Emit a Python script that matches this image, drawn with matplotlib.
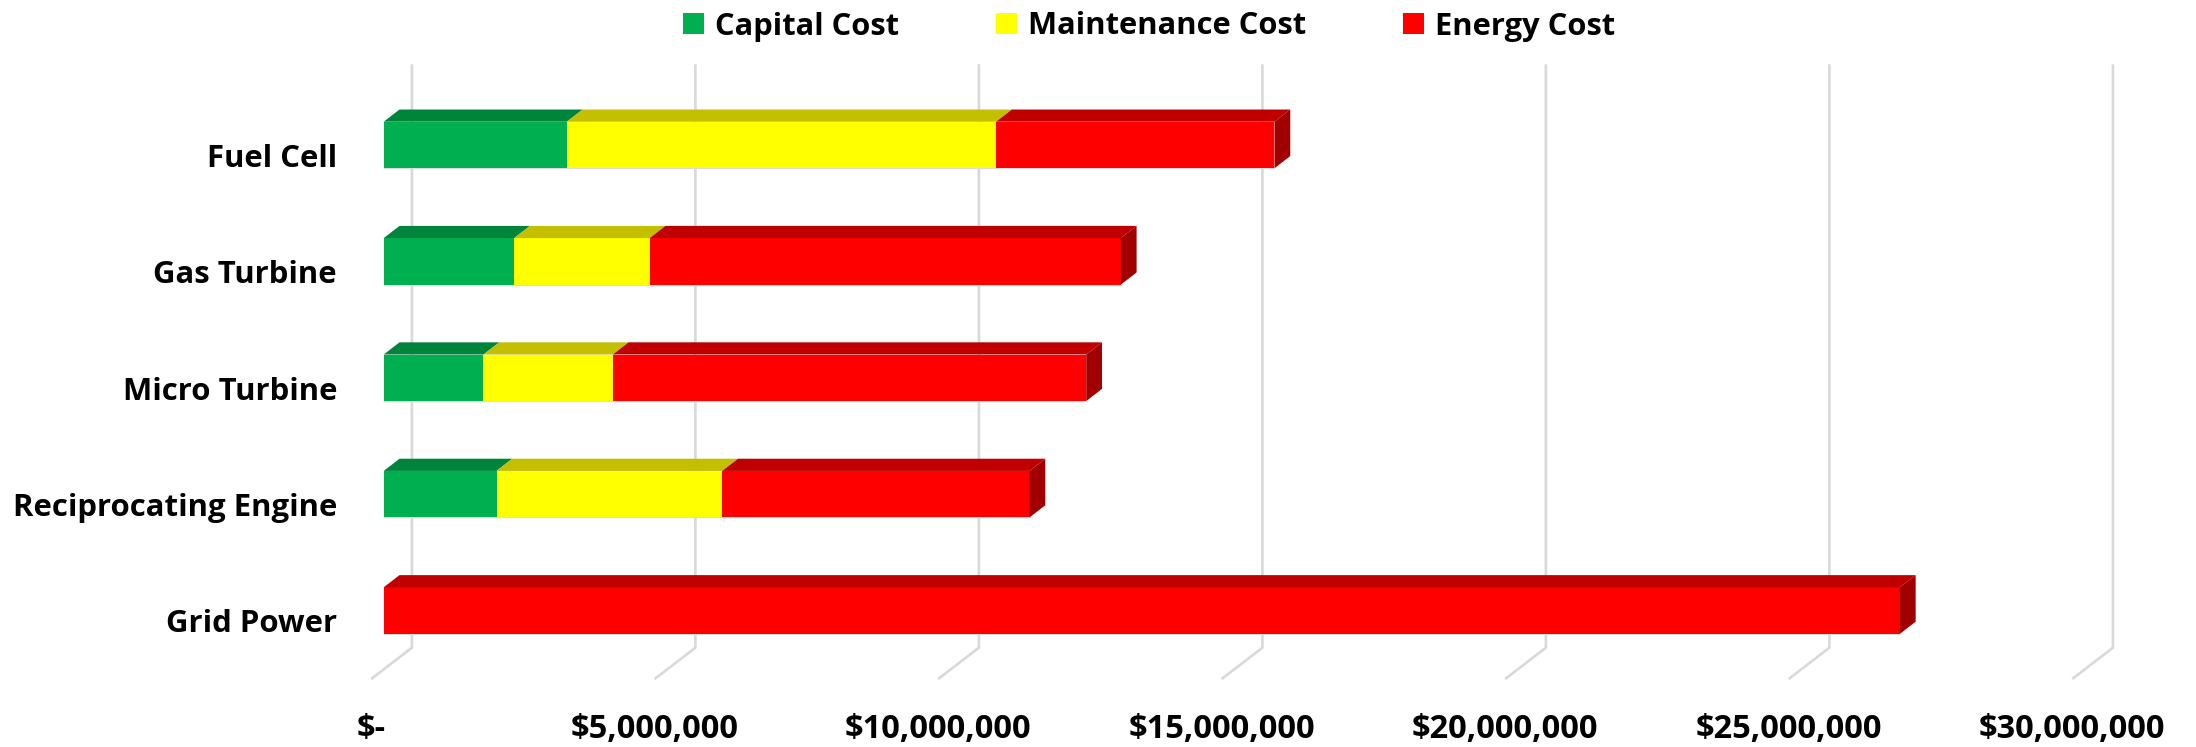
import matplotlib
matplotlib.use('Agg')
import matplotlib.pyplot as plt
from matplotlib.patches import Polygon, Patch
import numpy as np

# ---------------- data ----------------
categories = ['Fuel Cell', 'Gas Turbine', 'Micro Turbine', 'Reciprocating Engine', 'Grid Power']
capital_cost = [3.23e6, 2.30e6, 1.76e6, 1.99e6, 0.0]
maintenance_cost = [7.57e6, 2.39e6, 2.28e6, 3.98e6, 0.0]
energy_cost = [4.91e6, 8.31e6, 8.35e6, 5.42e6, 26.74e6]
series_names = ['Capital Cost', 'Maintenance Cost', 'Energy Cost']
tick_values = [0, 5e6, 10e6, 15e6, 20e6, 25e6, 30e6]
tick_labels = ['$-', '$5,000,000', '$10,000,000', '$15,000,000', '$20,000,000', '$25,000,000', '$30,000,000']

# ---------------- style ----------------
front_colors = ['#00B050', '#FFFF00', '#FF0000']
top_colors = ['#00843C', '#C4BF00', '#C00000']
side_colors = ['#00702F', '#A6A200', '#A00000']
grid_color = '#D9D9D9'

plt.rcParams['font.family'] = ['Open Sans', 'DejaVu Sans']
plt.rcParams['font.weight'] = 'bold'

W, H = 2196, 747
fig = plt.figure(figsize=(W / 100, H / 100), dpi=100)
ax = fig.add_axes([0, 0, 1, 1])

# scale: pixels -> data
PX = 5e6 / 283.5          # dollars per pixel
x0px = 383.7               # pixel position of zero on bar front faces
row_px = 116.4             # pixels between category rows
y0px = 145.0               # pixel centre of first row
ax.set_xlim(-x0px * PX, (W - x0px) * PX)
ax.set_ylim((H - y0px) / row_px, -y0px / row_px)
ax.axis('off')

ROW = 1.0 / row_px         # data units per pixel (vertical)
bar_h = 0.4
bdx, bdy = 15.8 * PX, -12.2 * ROW          # bar depth offset
wall_dx = 28.2 * PX                        # back wall offset from bar front
floor_dx, floor_dy = 40.7 * PX, 31.3 * ROW  # floor depth
wall_top = (64.3 - y0px) * ROW
wall_bottom = (647.7 - y0px) * ROW

# gridlines on back wall + floor
for v in tick_values:
    xb = v + wall_dx
    ax.plot([xb, xb, xb - floor_dx], [wall_top, wall_bottom, wall_bottom + floor_dy],
            color=grid_color, lw=1.9, zorder=1, solid_capstyle='butt')

# bars
y = np.arange(len(categories))
series = [capital_cost, maintenance_cost, energy_cost]
left = np.zeros(len(categories))
for k, vals in enumerate(series):
    vals = np.array(vals)
    ax.barh(y, vals, left=left, height=bar_h, color=front_colors[k], zorder=3,
            linewidth=0)
    for i in range(len(categories)):
        if vals[i] <= 0:
            continue
        l, r = left[i], left[i] + vals[i]
        t = y[i] - bar_h / 2
        top = Polygon([(l, t), (r, t), (r + bdx, t + bdy), (l + bdx, t + bdy)],
                      closed=True, facecolor=top_colors[k], edgecolor='none', zorder=3)
        ax.add_patch(top)
    left = left + vals

# faint outline under each bar's front face
for i in range(len(categories)):
    ax.plot([0, left[i]], [y[i] + bar_h / 2, y[i] + bar_h / 2], color='#DCDCDC',
            lw=0.8, zorder=2.9)

# side face at end of each bar
for i in range(len(categories)):
    r = left[i]
    t = y[i] - bar_h / 2
    b = y[i] + bar_h / 2
    last = max(k for k in range(3) if series[k][i] > 0)
    side = Polygon([(r, t), (r, b), (r + bdx, b + bdy), (r + bdx, t + bdy)],
                   closed=True, facecolor=side_colors[last], edgecolor='none', zorder=3)
    ax.add_patch(side)

# category labels
label_x = (337 - x0px) * PX
for i, c in enumerate(categories):
    ax.text(label_x, y[i] + 21.7 * ROW, c, ha='right', va='baseline',
            fontsize=22.4, fontweight='bold', color='black')

# value axis labels (at front edge of floor)
tick_y = (738 - y0px) * ROW
for v, s in zip(tick_values, tick_labels):
    ax.text(v + wall_dx - floor_dx, tick_y, s, ha='center', va='baseline',
            fontsize=23.5, fontweight='bold', color='black')

# legend
handles = [Patch(facecolor=c, edgecolor='none') for c in front_colors]
leg = ax.legend(handles, series_names, loc='center', bbox_to_anchor=(1149 / W, 1 - 26.5 / H),
                bbox_transform=fig.transFigure, ncol=3, frameon=False, fontsize=22.2,
                handlelength=0.68, handleheight=0.68, handletextpad=0.36,
                columnspacing=3.15, borderaxespad=0, borderpad=0)
for t in leg.get_texts():
    t.set_fontweight('bold')

fig.savefig('out.png', dpi=100)
